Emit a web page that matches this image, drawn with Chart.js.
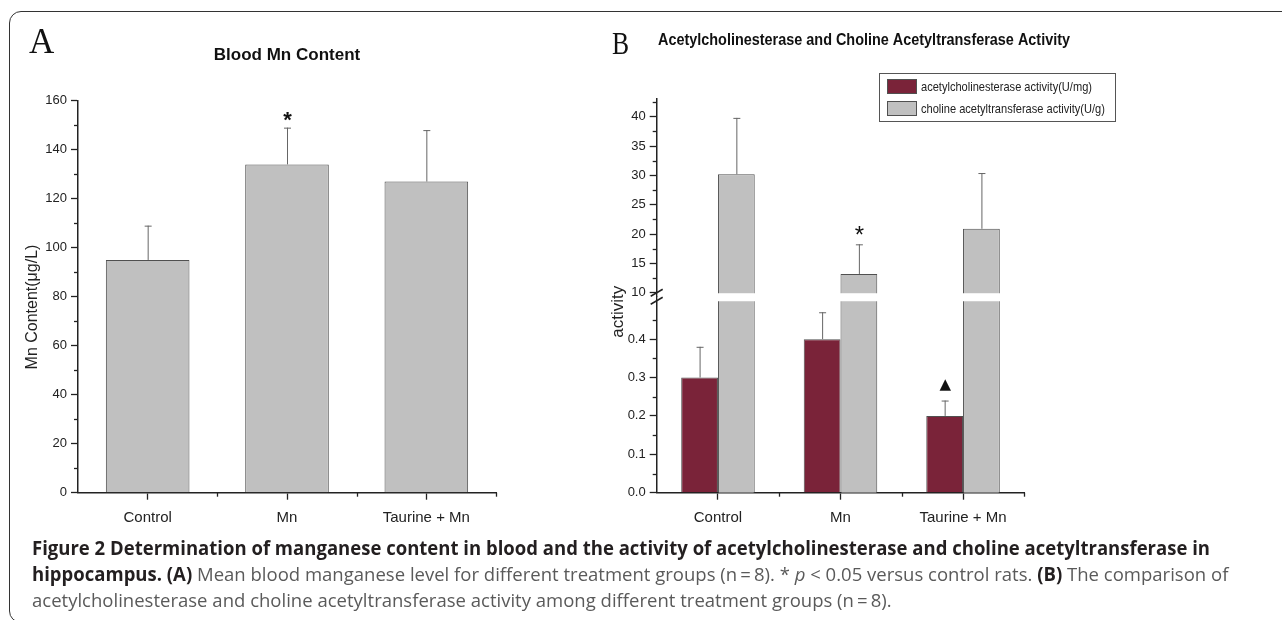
<!DOCTYPE html>
<html>
<head>
<meta charset="utf-8">
<script src="https://cdn.jsdelivr.net/npm/chart.js@4.4.1/dist/chart.umd.min.js"></script>
<style>
  html, body { margin: 0; padding: 0; background: #fff; }
  #page { position: relative; width: 1282px; height: 620px; overflow: hidden; background: #fff; }
  #frame { position: absolute; left: 9px; top: 11px; width: 1320px; height: 612px;
           border: 1.5px solid #333; border-radius: 12px; box-sizing: border-box; }
  canvas { position: absolute; top: 0; }
  #chartA { left: 0; }
  #chartB { left: 600px; }
  .letter { position: absolute; font-family: "Liberation Serif", "Times New Roman", serif;
            line-height: 1; color: #111; transform-origin: 0 0; }
  #letterA { left: 29px; top: 23.7px; font-size: 35px; }
  #letterB { left: 612px; top: 26.5px; font-size: 32px; transform: scaleX(0.8); }
  #caption { position: absolute; left: 32px; top: 534.6px; font-family: "Open Sans", sans-serif;
             font-size: 19px; color: #5a5a5a; }
  #caption .ln { line-height: 26px; white-space: nowrap; width: max-content; transform-origin: 0 0; }
  #caption b { color: #231f20; font-weight: 700; }
</style>
</head>
<body>
<div id="page">
  <div id="frame"></div>
  <canvas id="chartA" width="600" height="540"></canvas>
  <canvas id="chartB" width="682" height="540"></canvas>
  <div class="letter" id="letterA">A</div>
  <div class="letter" id="letterB">B</div>
  <div id="caption">
    <div class="ln"><b>Figure 2 Determination of manganese content in blood and the activity of acetylcholinesterase and choline acetyltransferase in</b></div>
    <div class="ln"><b>hippocampus. (A)</b> Mean blood manganese level for different treatment groups (n&#8201;=&#8201;8). * <i>p</i> &lt; 0.05 versus control rats. <b>(B)</b> The comparison of</div>
    <div class="ln">acetylcholinesterase and choline acetyltransferase activity among different treatment groups (n&#8201;=&#8201;8).</div>
  </div>
</div>
<script>
const groups = ['Control', 'Mn', 'Taurine + Mn'];

// A: blood manganese (ug/L), mean + upper SD
const bloodMn = [95, 134, 127];
const bloodMnErr = [14, 15, 21];
const bloodMnSig = ['', '*', ''];
const ticksA = [0, 20, 40, 60, 80, 100, 120, 140, 160];
const minorA = [10, 30, 50, 70, 90, 110, 130, 150];

// B: enzyme activity, broken y axis
const ache = [0.30, 0.40, 0.20];
const acheErr = [0.08, 0.07, 0.04];
const acheSig = ['', '', '\u25B2'];
const chat = [30.2, 13.2, 20.9];
const chatErr = [9.6, 5.05, 9.5];
const chatSig = ['', '*', ''];
const ticksLow = [0, 0.1, 0.2, 0.3, 0.4];
const minorLow = [0.05, 0.15, 0.25, 0.35, 0.45];
const ticksHigh = [10, 15, 20, 25, 30, 35, 40];
const minorHigh = [12.5, 17.5, 22.5, 27.5, 32.5, 37.5, 42.5];

const FONT = "'Liberation Sans', Arial, sans-serif";
const INK = '#222';
const GRAY = '#c0c0c0';
const WINE = '#7a2339';
const EDGE = '#505050';

// error bars, significance marks, minor ticks, axis break, legend, titles
const extras = {
  id: 'extras',
  afterDatasetsUpdate(chart, args, opts) {
    // bars on the upper part of a broken axis still start from the x axis
    (opts.fullHeight || []).forEach(di => {
      chart.getDatasetMeta(di).data.forEach(bar => { bar.base = chart.chartArea.bottom; });
    });
  },
  afterDatasetsDraw(chart, args, opts) {
    const ctx = chart.ctx;
    const area = chart.chartArea;
    ctx.save();
    if (opts.brk) {
      const yA = chart.scales[opts.brk.upper].getPixelForValue(opts.brk.upperMin);
      const yB = chart.scales[opts.brk.lower].getPixelForValue(opts.brk.lowerMax);
      ctx.fillStyle = '#fff';
      ctx.fillRect(area.left + 1, yA + 0.5, area.right - area.left, yB - yA);
      ctx.strokeStyle = INK;
      ctx.lineWidth = 1.5;
      [yA, yB].forEach(y => {
        ctx.beginPath();
        ctx.moveTo(area.left - 6, y + 3.5);
        ctx.lineTo(area.left + 6, y - 3.5);
        ctx.stroke();
      });
    }
    Object.keys(opts.errors || {}).forEach(k => {
      const di = +k;
      const errs = opts.errors[k];
      const meta = chart.getDatasetMeta(di);
      const ys = chart.scales[meta.yAxisID];
      const vals = chart.data.datasets[di].data;
      const mk = (opts.marks || {})[k];
      meta.data.forEach((bar, i) => {
        const top = ys.getPixelForValue(vals[i] + errs[i]);
        ctx.strokeStyle = '#666';
        ctx.lineWidth = 1;
        ctx.beginPath();
        ctx.moveTo(bar.x + 0.5, bar.y);
        ctx.lineTo(bar.x + 0.5, top);
        ctx.moveTo(bar.x - 3, top + 0.5);
        ctx.lineTo(bar.x + 4, top + 0.5);
        ctx.stroke();
        if (mk && mk.text[i]) {
          ctx.fillStyle = '#111';
          ctx.font = mk.font;
          ctx.textAlign = 'center';
          ctx.textBaseline = 'alphabetic';
          ctx.fillText(mk.text[i], bar.x + 0.5, top - mk.gap);
        }
      });
    });
    ctx.restore();
  },
  afterDraw(chart, args, opts) {
    const ctx = chart.ctx;
    ctx.save();
    ctx.strokeStyle = INK;
    ctx.lineWidth = 1.3;
    // minor ticks
    Object.keys(opts.minor || {}).forEach(id => {
      const s = chart.scales[id];
      opts.minor[id].forEach(v => {
        const y = Math.round(s.getPixelForValue(v)) + 0.5;
        ctx.beginPath();
        ctx.moveTo(s.right - 4, y);
        ctx.lineTo(s.right, y);
        ctx.stroke();
      });
    });
    const sx = chart.scales.x;
    const half = (sx.getPixelForValue(1) - sx.getPixelForValue(0)) / 2;
    chart.data.labels.forEach((l, i) => {
      const x = Math.round(sx.getPixelForValue(i) + half) + 0.5;
      ctx.beginPath();
      ctx.moveTo(x, sx.top);
      ctx.lineTo(x, sx.top + 4);
      ctx.stroke();
    });
    // chart title squeezed into the width it has in the figure
    if (opts.title) {
      const t = opts.title;
      ctx.fillStyle = '#111';
      ctx.font = 'bold ' + t.size + 'px ' + FONT;
      ctx.textAlign = 'left';
      ctx.textBaseline = 'middle';
      ctx.fillText(t.text, t.x, t.y, t.maxWidth);
    }
    // y title
    if (opts.yTitle) {
      const t = opts.yTitle;
      ctx.translate(t.x, t.y);
      ctx.rotate(-Math.PI / 2);
      ctx.fillStyle = INK;
      ctx.font = t.size + 'px ' + FONT;
      ctx.textAlign = 'center';
      ctx.textBaseline = 'middle';
      ctx.fillText(t.text, 0, 0);
      ctx.setTransform(1, 0, 0, 1, 0, 0);
    }
    // legend box
    if (opts.legend) {
      const L = opts.legend;
      ctx.strokeStyle = '#555';
      ctx.lineWidth = 1;
      ctx.strokeRect(L.x + 0.5, L.y + 0.5, L.w, L.h);
      ctx.font = L.size + 'px ' + FONT;
      const k = L.textW / ctx.measureText(chart.data.datasets[0].label).width;
      chart.data.datasets.forEach((ds, i) => {
        const sy = L.y + 6 + i * 22;
        ctx.fillStyle = ds.backgroundColor;
        ctx.fillRect(L.x + 8, sy, 30, 15);
        ctx.strokeStyle = EDGE;
        ctx.strokeRect(L.x + 8.5, sy + 0.5, 29, 14);
        ctx.save();
        ctx.translate(L.x + 42, sy + 8);
        ctx.scale(k, 1);
        ctx.fillStyle = INK;
        ctx.textAlign = 'left';
        ctx.textBaseline = 'middle';
        ctx.fillText(ds.label, 0, 0);
        ctx.restore();
      });
    }
    ctx.restore();
  }
};

function axisX() {
  return {
    offset: true,
    grid: { display: true, offset: false, drawOnChartArea: false, drawTicks: true,
            tickLength: 7, tickColor: INK, tickWidth: 1.3 },
    border: { color: INK, width: 1.5 },
    ticks: { color: INK, font: { family: FONT, size: 15 }, padding: 9, maxRotation: 0, autoSkip: false },
    afterFit: s => { s.height = 40; }
  };
}

function axisY(ticks, minMax, width, fmt) {
  return Object.assign({
    type: 'linear',
    position: 'left',
    grid: { display: true, drawOnChartArea: false, drawTicks: true, tickLength: 7, tickColor: INK, tickWidth: 1.3 },
    border: { color: INK, width: 1.5 },
    ticks: { color: INK, font: { family: FONT, size: 13 }, padding: 4, autoSkip: false, callback: fmt },
    afterBuildTicks: s => { s.ticks = ticks.map(v => ({ value: v })); },
    afterFit: s => { s.width = width; }
  }, minMax);
}

const barStyle = { borderColor: EDGE, borderWidth: 1, categoryPercentage: 0.6, barPercentage: 1.0 };

new Chart(document.getElementById('chartA'), {
  type: 'bar',
  data: {
    labels: groups,
    datasets: [Object.assign({ label: 'Blood Mn content', data: bloodMn, backgroundColor: GRAY }, barStyle)]
  },
  options: {
    responsive: false,
    animation: false,
    devicePixelRatio: 1,
    layout: { padding: { left: 0, right: 104, top: 0, bottom: 7.3 } },
    plugins: {
      legend: { display: false },
      tooltip: { enabled: false },
      title: { display: true, text: 'Blood Mn Content', fullSize: false, color: '#111',
               font: { family: FONT, size: 17, weight: 'bold' }, padding: { top: 44.8, bottom: 35.5 } },
      extras: {
        errors: { 0: bloodMnErr },
        marks: { 0: { text: bloodMnSig, font: 'bold 22px ' + FONT, gap: 1 } },
        minor: { y: minorA },
        yTitle: { text: 'Mn Content(\u03BCg/L)', x: 33, y: 307, size: 16 }
      }
    },
    scales: {
      x: axisX(),
      y: axisY(ticksA, { min: 0, max: 160 }, 78, v => v)
    }
  },
  plugins: [extras]
});

new Chart(document.getElementById('chartB'), {
  type: 'bar',
  data: {
    labels: groups,
    datasets: [
      Object.assign({ label: 'acetylcholinesterase activity(U/mg)', data: ache, yAxisID: 'yLow', backgroundColor: WINE }, barStyle),
      Object.assign({ label: 'choline acetyltransferase activity(U/g)', data: chat, yAxisID: 'yHigh', backgroundColor: GRAY, clip: false }, barStyle)
    ]
  },
  options: {
    responsive: false,
    animation: false,
    devicePixelRatio: 1,
    layout: { padding: { left: 0, right: 257.7, top: 99.1, bottom: 7.3 } },
    plugins: {
      legend: { display: false },
      tooltip: { enabled: false },
      title: { display: false },
      extras: {
        fullHeight: [1],
        brk: { upper: 'yHigh', upperMin: 10, lower: 'yLow', lowerMax: 0.5 },
        errors: { 0: acheErr, 1: chatErr },
        marks: {
          0: { text: acheSig, font: '15px "DejaVu Sans", sans-serif', gap: 12 },
          1: { text: chatSig, font: '24px ' + FONT, gap: 1.5 }
        },
        minor: { yHigh: minorHigh, yLow: minorLow },
        title: { text: 'Acetylcholinesterase and Choline Acetyltransferase Activity', x: 58, y: 40, size: 17, maxWidth: 412 },
        yTitle: { text: 'activity', x: 18, y: 311.7, size: 17 },
        legend: { x: 279, y: 73, w: 236, h: 48, size: 13, textW: 171 }
      }
    },
    scales: {
      x: axisX(),
      // left boxes are stacked bottom-up, so the lower segment comes first
      yLow: Object.assign(axisY(ticksLow, { min: 0, max: 0.51 }, 56.7, v => v.toFixed(1)),
                          { stack: 'act', stackWeight: 195.8 }),
      yHigh: Object.assign(axisY(ticksHigh, { min: 9.29, max: 43 }, 56.7, v => v),
                           { stack: 'act', stackWeight: 197.8 })
    }
  },
  plugins: [extras]
});

// caption lines share one horizontal squeeze, set from the first line's width
document.fonts.ready.then(() => {
  const lines = document.querySelectorAll('#caption .ln');
  const k = 1178 / lines[0].getBoundingClientRect().width;
  lines.forEach(l => { l.style.transform = 'scaleX(' + k + ')'; });
});
</script>
</body>
</html>
